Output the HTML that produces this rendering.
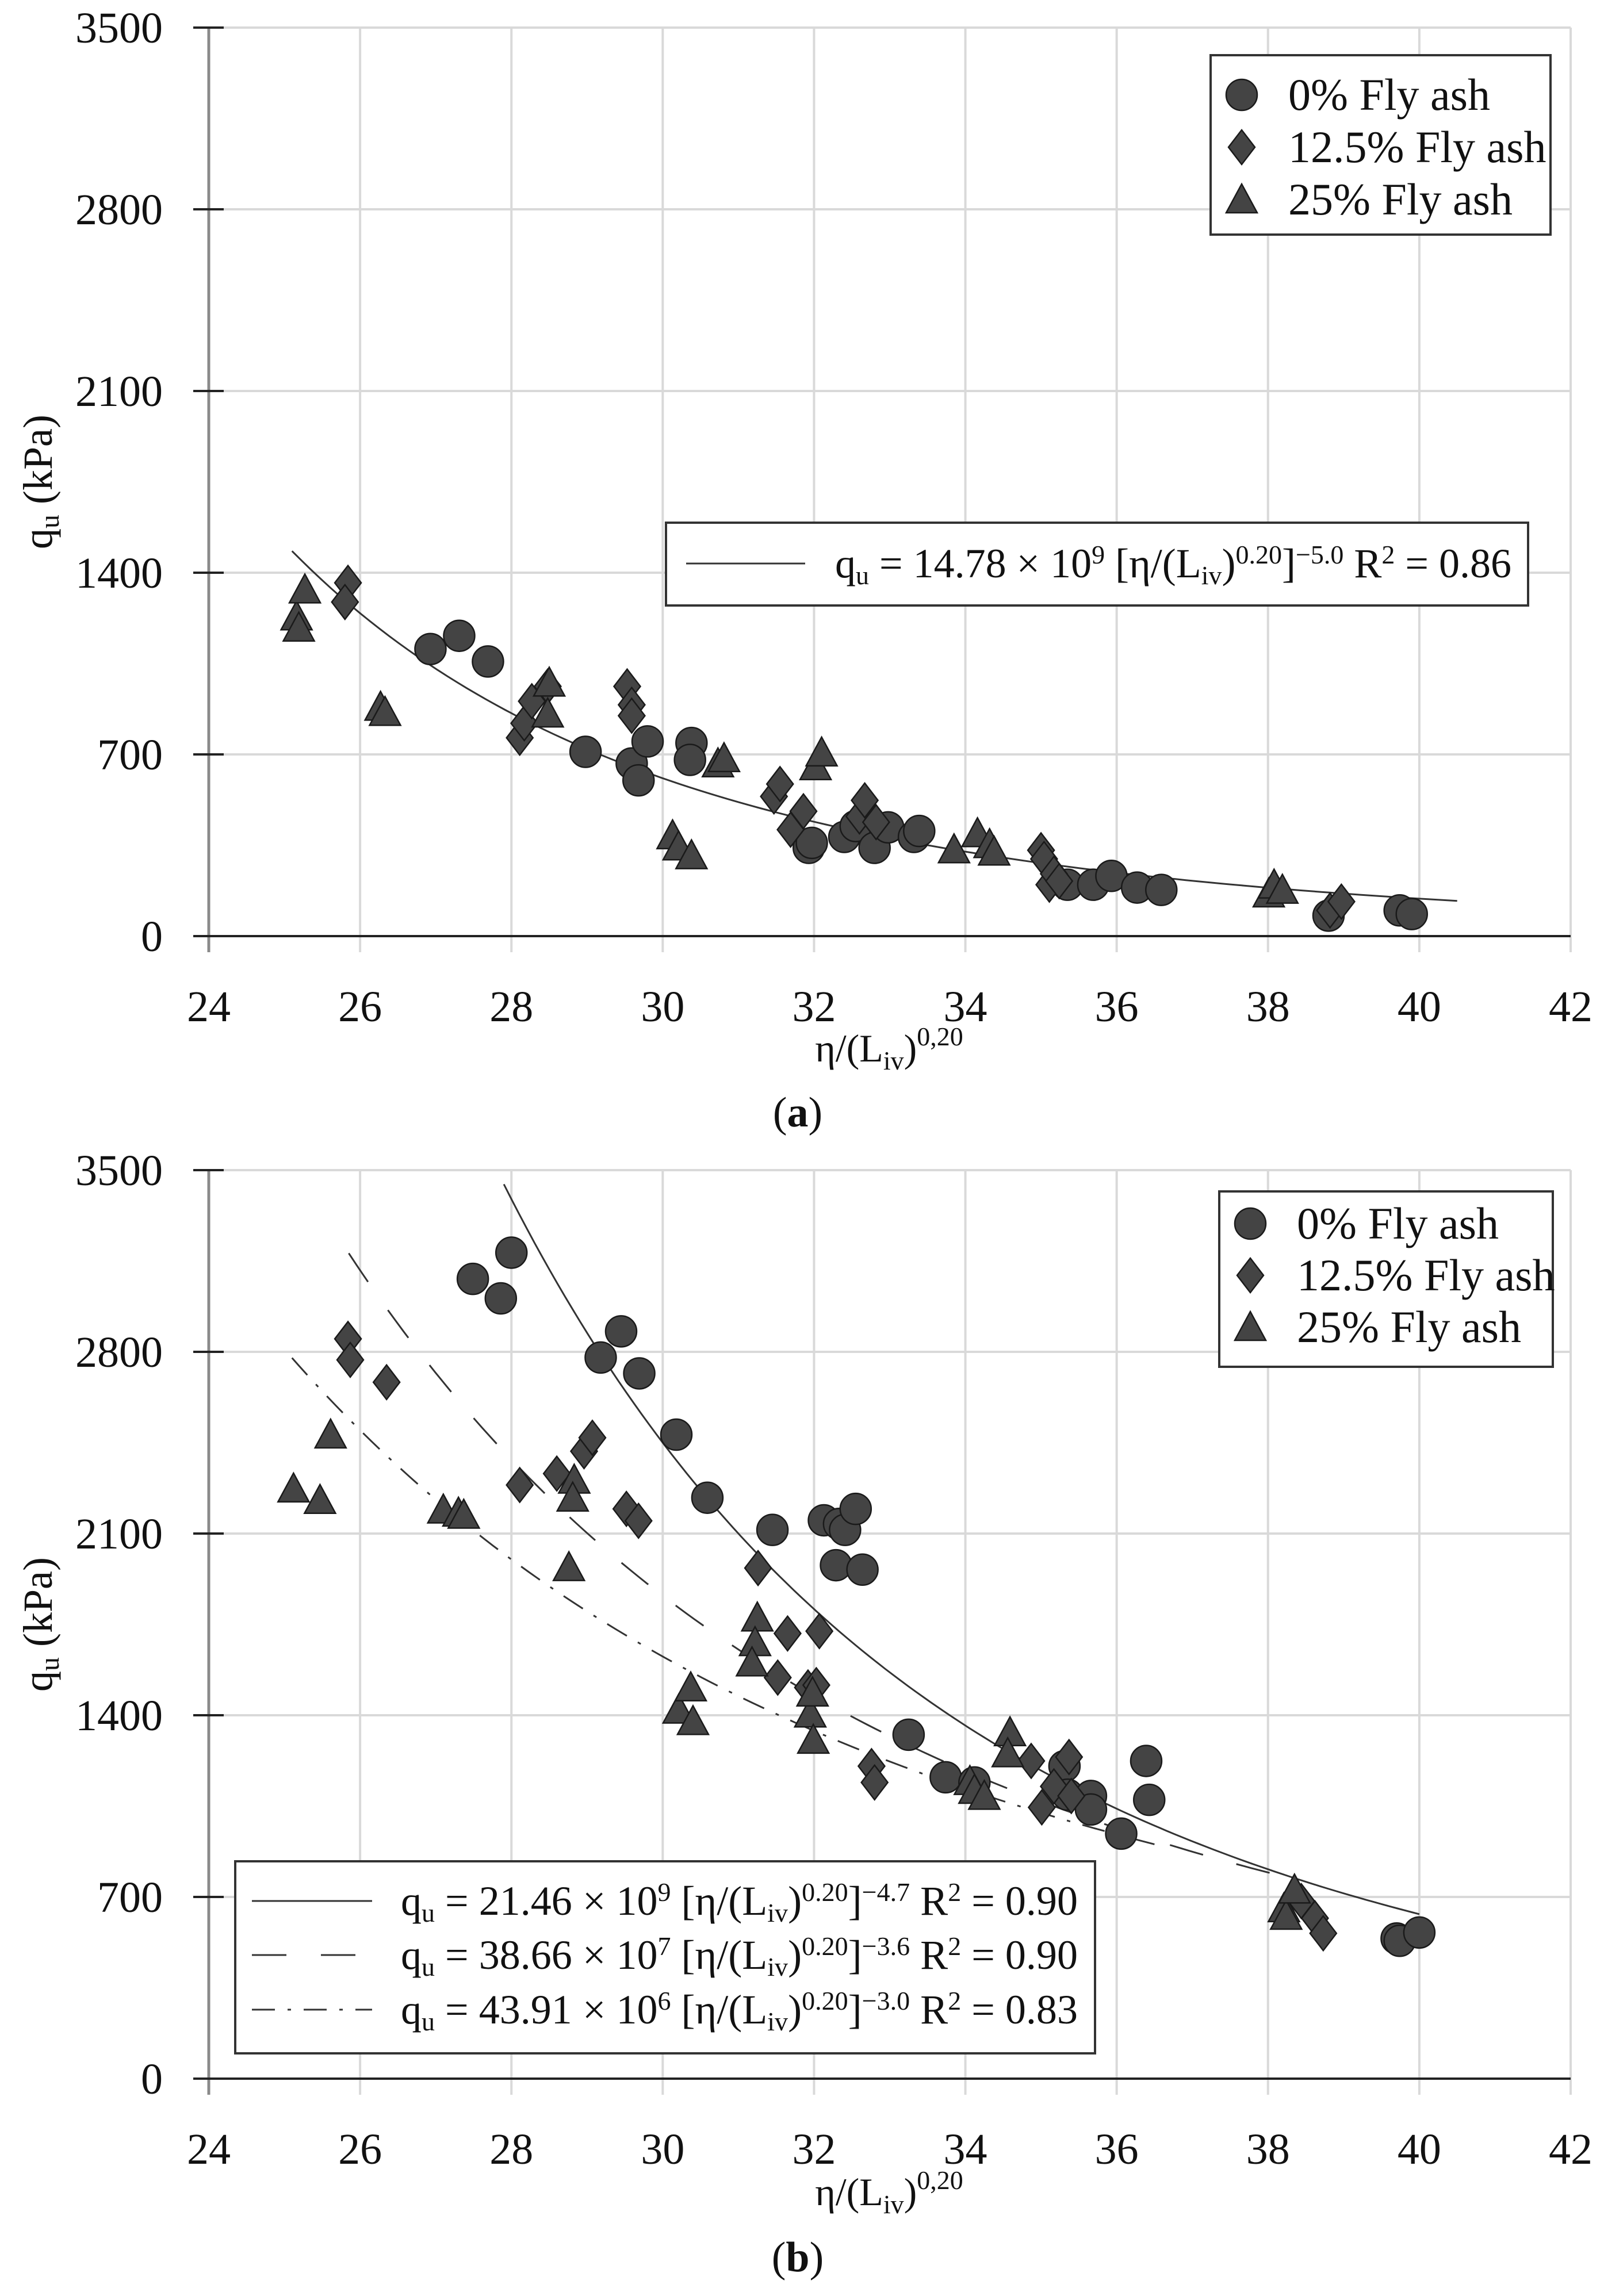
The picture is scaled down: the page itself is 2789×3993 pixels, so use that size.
<!DOCTYPE html>
<html><head><meta charset="utf-8">
<style>
html,body{margin:0;padding:0;background:#fff;}
svg{display:block;font-family:"Liberation Serif",serif;}
</style></head>
<body>
<svg id="svg" width="2789" height="3993" viewBox="0 0 2789 3993" xmlns="http://www.w3.org/2000/svg">
<rect width="2789" height="3993" fill="#fff"/>
<g id="chartA"></g>
<g id="chartB"></g>
</svg>
<script>
// ---------- data ----------
const xTicks = [24,26,28,30,32,34,36,38,40,42];
const yTicks = [0,700,1400,2100,2800,3500];
const seriesNames = ["0% Fly ash","12.5% Fly ash","25% Fly ash"];

const a0x = [26.93,27.31,27.69,28.98,29.59,29.68,29.80,30.38,30.36,31.93,31.97,32.40,32.55,32.80,32.98,33.32,33.39,35.35,35.69,35.93,36.27,36.59,38.80,39.74,39.90];
const a0y = [1106,1157,1058,710,665,600,750,744,679,340,359,382,424,340,419,382,405,198,198,232,187,178,79,99,85];
const a1x = [25.84,25.80,28.11,28.17,28.27,28.48,29.53,29.59,29.59,31.47,31.55,31.69,31.86,32.60,32.67,32.82,35.00,35.04,35.11,35.17,35.24,38.82,38.97];
const a1y = [1361,1287,764,820,905,962,962,891,849,538,586,410,481,461,523,439,331,297,198,240,212,99,133];
const a2x = [25.16,25.19,25.27,26.27,26.33,28.48,28.50,30.13,30.21,30.38,30.73,30.81,32.02,32.10,33.85,34.16,34.32,34.38,38.01,38.08,38.19];
const a2y = [1231,1188,1335,883,863,857,976,388,345,311,665,685,654,707,334,396,354,325,164,198,178];

const b0x = [27.49,27.86,28.00,29.18,29.45,29.69,30.18,30.59,31.45,32.13,32.33,32.41,32.55,32.29,32.64,33.25,33.74,34.12,35.31,35.35,35.66,35.66,36.06,36.39,36.43,39.70,39.74,40.00];
const b0y = [3081,3006,3182,2778,2879,2717,2481,2238,2114,2151,2137,2114,2195,1978,1961,1325,1161,1141,1204,1094,1089,1037,944,1224,1074,540,531,563];
const b1x = [25.84,25.87,26.35,28.11,28.60,28.96,29.07,29.52,29.68,31.26,31.65,32.07,31.52,31.92,32.03,32.76,32.80,34.87,35.01,35.17,35.37,35.40,38.44,38.62,38.73];
const b1y = [2850,2769,2683,2287,2331,2417,2469,2195,2149,1967,1715,1724,1545,1507,1516,1204,1141,1224,1045,1126,1239,1089,684,618,560];
const b2x = [25.12,25.47,25.61,27.10,27.30,27.37,28.76,28.83,28.81,30.21,30.37,30.40,31.25,31.22,31.18,31.95,31.98,31.99,34.59,34.56,34.06,34.12,34.25,38.21,38.24,38.35];
const b2y = [2273,2229,2481,2192,2180,2172,1970,2307,2238,1421,1507,1377,1776,1681,1603,1406,1487,1305,1334,1253,1146,1112,1089,656,627,728];

// fit parameters: [coef, exponent, xStart, xEnd]
const fitA = [14.78e9, -5.0, 25.1, 40.5];
const fitB1 = [21.46e9, -4.7, 27.9, 40.0];
const fitB2 = [38.66e7, -3.6, 25.85, 38.3];
const fitB3 = [43.91e6, -3.0, 25.1, 36.5];

// ---------- drawing ----------
const NS = "http://www.w3.org/2000/svg";
function mk(tag, attrs, parent){
  const e = document.createElementNS(NS, tag);
  for (const k in attrs) e.setAttribute(k, attrs[k]);
  parent.appendChild(e);
  return e;
}
const X0 = 363, X1 = 2731;
function xs(v){ return X0 + (v-24)/(42-24)*(X1-X0); }

function drawChart(g, yTop, yBot, layout){
  const ys = v => yBot - v/3500*(yBot-yTop);
  xTicks.forEach(t=>{
    if (t===24) return;
    const l = mk('line',{x1:xs(t),x2:xs(t),y1:yTop,y2:yBot+28,stroke:'#d9d9d9','stroke-width':4},g);
    
    
  });
  yTicks.forEach(t=>{
    if (t===0) return;
    const l = mk('line',{x1:X0,x2:X1,y1:ys(t),y2:ys(t),stroke:'#d9d9d9','stroke-width':4},g);
    
    
  });
  const ya = mk('line',{x1:X0,x2:X0,y1:yTop,y2:yBot+28,stroke:'#8a8a8a','stroke-width':5},g);
  
  
  const xa = mk('line',{x1:336,x2:X1,y1:yBot,y2:yBot,stroke:'#222','stroke-width':4},g);
  
  
  yTicks.forEach(t=>{
    const tk = mk('line',{x1:336,x2:389,y1:ys(t),y2:ys(t),stroke:'#222','stroke-width':4},g);
    
    
    const tx = mk('text',{x:283,y:ys(t)+26,'text-anchor':'end','font-size':76,fill:'#111'},g);
    tx.textContent = t;
    
    
  });
  xTicks.forEach(t=>{
    const tx = mk('text',{x:xs(t),y:yBot+148,'text-anchor':'middle','font-size':76,fill:'#111'},g);
    tx.textContent = t;
    
    
  });
  const yc = (yTop+yBot)/2;
  const yt = mk('text',{x:0,y:0,transform:`translate(90,${yc}) rotate(-90)`,'text-anchor':'middle','font-size':72,fill:'#111'},g);
  yt.innerHTML = 'q<tspan font-size="48" dy="12">u</tspan><tspan dy="-12"> (kPa)</tspan>';
  
  
  const xt = mk('text',{x:1546,y:layout.xTitleY,'text-anchor':'middle','font-size':68,fill:'#111'},g);
  xt.innerHTML = 'η/(L<tspan font-size="46" dy="14">iv</tspan><tspan dy="-14">)</tspan><tspan font-size="46" dy="-28">0,20</tspan>';
  
  
  const cap = mk('text',{x:1387,y:layout.capY,'text-anchor':'middle','font-size':74,fill:'#111'},g);
  cap.innerHTML = '(<tspan font-weight="bold">'+layout.cap+'</tspan>)';
  
  

  layout.fits.forEach(f=>{
    const [c,e,s,en,dash] = f;
    let d='';
    const N=120;
    for(let i=0;i<=N;i++){
      const x = s + (en-s)*i/N;
      const y = c*Math.pow(x,e);
      d += (i?'L':'M') + xs(x).toFixed(1)+','+ys(y).toFixed(1);
    }
    const p = mk('path',{d:d,fill:'none',stroke:'#333','stroke-width':3,'stroke-dasharray':dash},g);
    
    
  });

  layout.series.forEach((sr,si)=>{
    const [xv,yv] = sr;
    xv.forEach((xx,i)=>{
      const m = marker(g, si, xs(xx), ys(yv[i]));
      
      
    });
  });

  const L = layout.leg;
  const lb = mk('rect',{x:L.x,y:L.y,width:L.w,height:L.h,fill:'#fff',stroke:'#333','stroke-width':4},g);
  
  
  seriesNames.forEach((n,i)=>{
    const m = marker(g, i, L.x+54, L.rows[i]);
    
    
    const t = mk('text',{x:L.x+135,y:L.rows[i]+26,'font-size':78,fill:'#111'},g);
    t.textContent = n;
    
    
  });

  const F = layout.fleg;
  const fb = mk('rect',{x:F.x,y:F.y,width:F.w,height:F.h,fill:'#fff',stroke:'#333','stroke-width':4},g);
  
  
  F.rows.forEach((r,i)=>{
    const ln = mk('line',{x1:F.lx1,x2:F.lx2,y1:r.y,y2:r.y,stroke:'#333','stroke-width':3,'stroke-dasharray':r.dash},g);
    
    
    const t = mk('text',{x:F.tx,y:r.y+24,'font-size':72,fill:'#111',textLength:F.tw,lengthAdjust:'spacingAndGlyphs'},g);
    t.innerHTML = 'q<tspan font-size="46" dy="12">u</tspan><tspan dy="-12"> = '+r.c+' × 10</tspan><tspan font-size="46" dy="-24">'+r.p+'</tspan><tspan dy="24"> [η/(L</tspan><tspan font-size="46" dy="12">iv</tspan><tspan dy="-12">)</tspan><tspan font-size="46" dy="-24">0.20</tspan><tspan dy="24">]</tspan><tspan font-size="46" dy="-24">'+r.e+'</tspan><tspan dy="24"> R</tspan><tspan font-size="46" dy="-24">2</tspan><tspan dy="24"> = '+r.r+'</tspan>';
    
    
  });
}

function marker(g, type, cx, cy){
  const st = {fill:'#444',stroke:'#1a1a1a','stroke-width':2.5};
  if (type===0) return mk('circle',Object.assign({cx:cx,cy:cy,r:27},st),g);
  if (type===1) return mk('polygon',Object.assign({points:`${cx},${cy-30} ${cx+23},${cy} ${cx},${cy+30} ${cx-23},${cy}`},st),g);
  return mk('polygon',Object.assign({points:`${cx},${cy-27} ${cx+27},${cy+23} ${cx-27},${cy+23}`},st),g);
}

drawChart(document.getElementById('chartA'), 48, 1628, {
  xTitleY:1846, capY:1959, cap:'a',
  fits:[[...fitA,'none']],
  series:[[a0x,a0y],[a1x,a1y],[a2x,a2y]],
  leg:{x:2105,y:96,w:591,h:312,rows:[165,256,347]},
  fleg:{x:1158,y:909,w:1499,h:144,lx1:1193,lx2:1400,tx:1452,tw:1176,
        rows:[{y:980,dash:'none',c:'14.78',p:'9',e:'−5.0',r:'0.86'}]}
});
drawChart(document.getElementById('chartB'), 2035, 3615, {
  xTitleY:3835, capY:3950, cap:'b',
  fits:[[...fitB1,'none'],[...fitB2,'60,60'],[...fitB3,'40,22,6,22']],
  series:[[b0x,b0y],[b1x,b1y],[b2x,b2y]],
  leg:{x:2120,y:2072,w:580,h:305,rows:[2128,2218,2308]},
  fleg:{x:409,y:3237,w:1495,h:334,lx1:438,lx2:647,tx:697,tw:1177,
        rows:[{y:3306,dash:'none',c:'21.46',p:'9',e:'−4.7',r:'0.90'},
              {y:3400,dash:'60,60',c:'38.66',p:'7',e:'−3.6',r:'0.90'},
              {y:3495,dash:'40,22,6,22',c:'43.91',p:'6',e:'−3.0',r:'0.83'}]}
});
</script>
</body></html>
